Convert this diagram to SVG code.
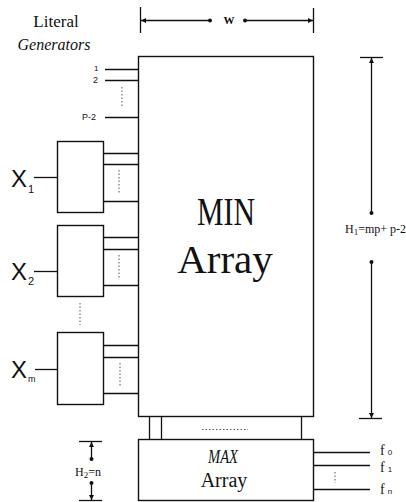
<svg xmlns="http://www.w3.org/2000/svg" width="406" height="502" viewBox="0 0 406 502">
<style>
.ln{stroke:#111;stroke-width:1.3;fill:none}
.bx{stroke:#111;stroke-width:1.4;fill:#fff}
.dt{stroke:#555;stroke-width:1;stroke-dasharray:1.5 2;fill:none}
.sr{font-family:'Liberation Serif','DejaVu Serif','Times New Roman',serif;fill:#111}
.ss{font-family:'Liberation Sans','DejaVu Sans',Arial,sans-serif;fill:#111}
</style>
<defs>
<marker id="ar" markerWidth="6" markerHeight="6" refX="5" refY="3" orient="auto" markerUnits="userSpaceOnUse"><path d="M0,0.5 L5,3 L0,5.5 Z" fill="#111"/></marker>
<marker id="dot" markerWidth="5" markerHeight="5" refX="2.5" refY="2.5" markerUnits="userSpaceOnUse"><circle cx="2.5" cy="2.5" r="2" fill="#111"/></marker>
</defs>

<text class="sr" x="56" y="27" font-size="17" text-anchor="middle">Literal</text>
<text class="sr" x="54" y="50" font-size="16" text-anchor="middle" font-style="italic">Generators</text>

<g id="min-array">
<rect class="bx" x="138.5" y="56.5" width="175" height="360"/>
<text class="sr" x="226" y="225" font-size="41" text-anchor="middle" textLength="58" lengthAdjust="spacingAndGlyphs">MIN</text>
<text class="sr" x="225" y="273" font-size="41" text-anchor="middle">Array</text>
</g>

<g id="max-array">
<rect class="bx" x="138.5" y="439.5" width="175" height="61"/>
<text class="sr" x="223" y="463" font-size="19" text-anchor="middle" font-style="italic" textLength="30" lengthAdjust="spacingAndGlyphs">MAX</text>
<text class="sr" x="224" y="487" font-size="20" text-anchor="middle">Array</text>
</g>

<g id="gen-x1">
<rect class="bx" x="57.5" y="141.5" width="46" height="71"/>
<text class="ss" x="11" y="187" font-size="24">X</text>
<text class="ss" x="28" y="193" font-size="11">1</text>
</g>
<g id="gen-x2">
<rect class="bx" x="57.5" y="225.5" width="46" height="71"/>
<text class="ss" x="11" y="280" font-size="24">X</text>
<text class="ss" x="28" y="285" font-size="11">2</text>
</g>
<g id="gen-xm">
<rect class="bx" x="57.5" y="332.5" width="46" height="72"/>
<text class="ss" x="11" y="378" font-size="24">X</text>
<text class="ss" x="28" y="382" font-size="9">m</text>
</g>

<g id="connectors">
<line class="ln" x1="105" y1="69.5" x2="138" y2="69.5"/>
<line class="ln" x1="105" y1="80.5" x2="138" y2="80.5"/>
<line class="ln" x1="105" y1="117.5" x2="138" y2="117.5"/>
<line class="dt" x1="122" y1="87" x2="122" y2="108"/>
<text class="ss" x="94" y="71" font-size="8">1</text>
<text class="ss" x="93" y="83" font-size="9">2</text>
<text class="ss" x="82" y="120" font-size="9">P-2</text>

<line class="ln" x1="34" y1="177.5" x2="57" y2="177.5"/>
<line class="ln" x1="104" y1="153.5" x2="138" y2="153.5"/>
<line class="ln" x1="104" y1="164.5" x2="138" y2="164.5"/>
<line class="ln" x1="104" y1="201.5" x2="138" y2="201.5"/>
<line class="dt" x1="119" y1="170" x2="119" y2="193"/>

<line class="ln" x1="34" y1="271.5" x2="57" y2="271.5"/>
<line class="ln" x1="104" y1="237.5" x2="138" y2="237.5"/>
<line class="ln" x1="104" y1="249.5" x2="138" y2="249.5"/>
<line class="ln" x1="104" y1="285.5" x2="138" y2="285.5"/>
<line class="dt" x1="119" y1="255" x2="119" y2="278"/>

<line class="dt" x1="80" y1="303" x2="80" y2="325"/>

<line class="ln" x1="35" y1="369.5" x2="57" y2="369.5"/>
<line class="ln" x1="104" y1="345.5" x2="138" y2="345.5"/>
<line class="ln" x1="104" y1="357.5" x2="138" y2="357.5"/>
<line class="ln" x1="104" y1="393.5" x2="138" y2="393.5"/>
<line class="dt" x1="120" y1="363" x2="120" y2="386"/>

<line class="ln" x1="149.5" y1="417" x2="149.5" y2="439"/>
<line class="ln" x1="161.5" y1="417" x2="161.5" y2="439"/>
<line class="ln" x1="301.5" y1="417" x2="301.5" y2="439"/>
<line class="dt" x1="202" y1="429.5" x2="248" y2="429.5"/>

<line class="ln" x1="314" y1="452.5" x2="370" y2="452.5"/>
<line class="ln" x1="314" y1="465.5" x2="370" y2="465.5"/>
<line class="ln" x1="314" y1="489.5" x2="370" y2="489.5"/>
<line class="dt" x1="335" y1="472" x2="335" y2="483"/>
<text class="sr" x="380" y="455" font-size="14">f<tspan class="ss" font-size="8" dx="3">0</tspan></text>
<text class="sr" x="380" y="472" font-size="14">f<tspan class="ss" font-size="8" dx="3">1</tspan></text>
<text class="sr" x="380" y="494" font-size="14">f<tspan class="ss" font-size="8" dx="3">n</tspan></text>

<line class="ln" x1="140.5" y1="7" x2="140.5" y2="33"/>
<line class="ln" x1="313.5" y1="8" x2="313.5" y2="33"/>
<line class="ln" x1="210" y1="20.5" x2="141" y2="20.5" marker-start="url(#dot)" marker-end="url(#ar)"/>
<line class="ln" x1="245" y1="20.5" x2="313" y2="20.5" marker-start="url(#dot)" marker-end="url(#ar)"/>
<text class="sr" x="229" y="24" font-size="11" font-weight="bold" text-anchor="middle">W</text>

<line class="ln" x1="360" y1="57.5" x2="383" y2="57.5"/>
<line class="ln" x1="359" y1="418.5" x2="382" y2="418.5"/>
<line class="ln" x1="371.5" y1="213" x2="371.5" y2="58" marker-start="url(#dot)" marker-end="url(#ar)"/>
<line class="ln" x1="371.5" y1="262" x2="371.5" y2="418" marker-start="url(#dot)" marker-end="url(#ar)"/>
<text class="sr" x="345" y="233" font-size="12">H<tspan font-size="9" dy="2">1</tspan><tspan dy="-2">=mp+ p-2</tspan></text>

<line class="ln" x1="79" y1="441.5" x2="102" y2="441.5"/>
<line class="ln" x1="79" y1="500.5" x2="102" y2="500.5"/>
<line class="ln" x1="91.5" y1="459" x2="91.5" y2="442" marker-start="url(#dot)" marker-end="url(#ar)"/>
<line class="ln" x1="91.5" y1="483" x2="91.5" y2="500" marker-start="url(#dot)" marker-end="url(#ar)"/>
<text class="sr" x="75" y="476" font-size="12">H<tspan font-size="9" dy="2">2</tspan><tspan dy="-2">=n</tspan></text>
</g>
</svg>
